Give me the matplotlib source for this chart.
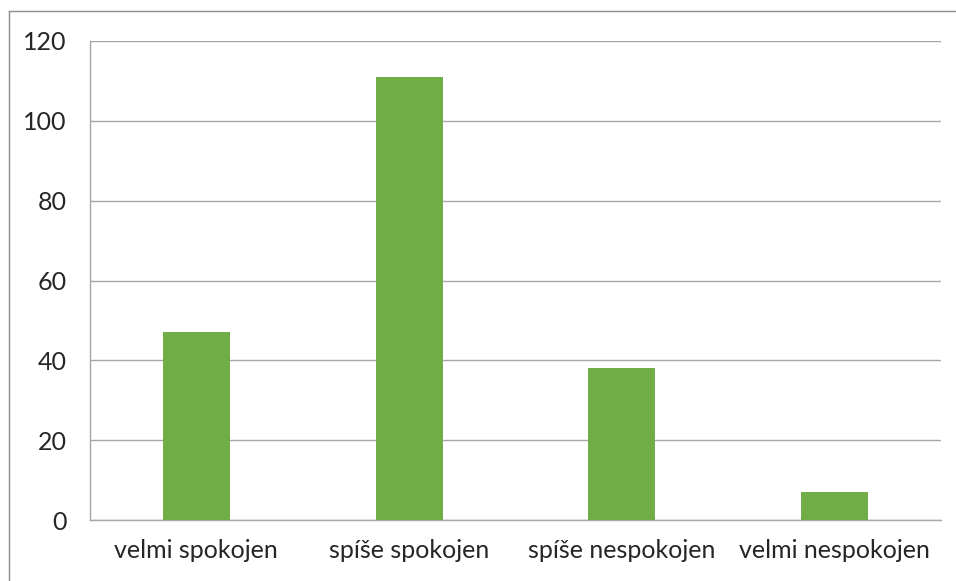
import matplotlib
matplotlib.use("Agg")
import matplotlib.pyplot as plt
from matplotlib.lines import Line2D

categories = ["velmi spokojen", "spíše spokojen", "spíše nespokojen", "velmi nespokojen"]
values = [47, 111, 38, 7]
yticks = [0, 20, 40, 60, 80, 100, 120]

W, H = 956, 581
fig = plt.figure(figsize=(W / 100, H / 100), dpi=100)
plt.rcParams['font.family'] = ['Lato', 'DejaVu Sans']

ax = fig.add_axes([90 / W, 1 - 520 / H, (941 - 90) / W, (520 - 41) / H])
x = list(range(len(categories)))
ax.bar(x, values, width=0.315, color="#70AD47", zorder=3)
ax.set_xlim(-0.5, len(categories) - 0.5)
ax.set_ylim(0, 120)
ax.set_yticks(yticks)
ax.set_yticklabels([str(t) for t in yticks], fontsize=18, color="#262626")
ax.set_xticks(x)
ax.set_xticklabels(categories, fontsize=18, color="#262626")
ax.tick_params(axis="both", length=0)
ax.tick_params(axis="y", pad=17)
ax.tick_params(axis="x", pad=14)
ax.grid(axis="y", color="#a6a6a6", linewidth=1.0, zorder=0)
for s in ["top", "right"]:
    ax.spines[s].set_visible(False)
ax.spines["left"].set_color("#a6a6a6")
ax.spines["bottom"].set_color("#a6a6a6")
ax.spines["left"].set_linewidth(1.0)
ax.spines["bottom"].set_linewidth(1.0)

# outer chart border (partially visible)
fig.add_artist(Line2D([9 / W, 1], [1 - 11 / H, 1 - 11 / H], transform=fig.transFigure, color="#8c8c8c", linewidth=1.0))
fig.add_artist(Line2D([9 / W, 9 / W], [0, 1 - 11 / H], transform=fig.transFigure, color="#8c8c8c", linewidth=1.0))

fig.savefig("out.png", dpi=100)
